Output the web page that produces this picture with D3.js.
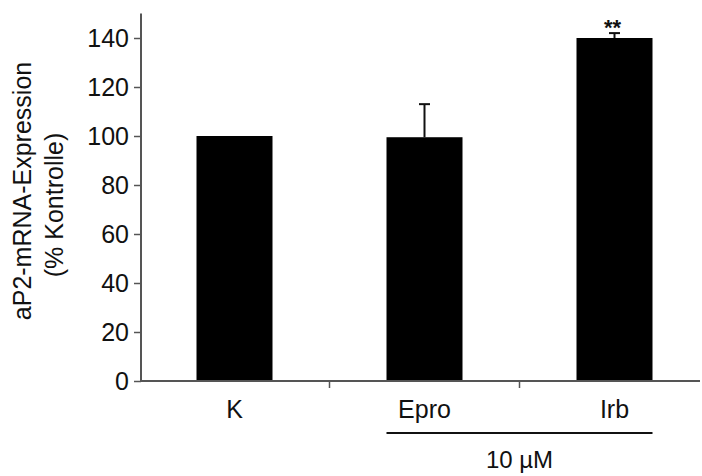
<!DOCTYPE html>
<html>
<head>
<meta charset="utf-8">
<script src="https://cdn.jsdelivr.net/npm/d3@7"></script>
<style>
  html, body { margin: 0; padding: 0; background: #fff; }
  svg { display: block; }
  text { font-family: "Liberation Sans", Arial, Helvetica, sans-serif; fill: #111; }
</style>
</head>
<body>
<svg id="chart" width="702" height="476"></svg>
<script>
// aP2 mRNA expression relative to control
const categories = ["K", "Epro", "Irb"];
const values = [100, 99.5, 140];
const errors = [0, 13.5, 2];
const significance = ["", "", "**"];
const yTicks = [0, 20, 40, 60, 80, 100, 120, 140];
const yTitleLines = ["aP2-mRNA-Expression", "(% Kontrolle)"];
const groupLabel = "10 µM";
const groupMembers = ["Epro", "Irb"];

const svg = d3.select("#chart");
const axisColor = "#555";

const x = d3.scaleBand()
  .domain(categories)
  .range([139.5, 709.5])
  .padding(0);

const y = d3.scaleLinear()
  .domain([0, 150])
  .range([381, 13.5]);

const barW = x.bandwidth() * 0.4;
const xLeft = 141;

// Bars
svg.append("g")
  .selectAll("rect")
  .data(categories)
  .join("rect")
  .attr("x", (d) => x(d) + (x.bandwidth() - barW) / 2)
  .attr("y", (d, i) => y(values[i]))
  .attr("width", barW)
  .attr("height", (d, i) => y(0) - y(values[i]))
  .attr("fill", "#000");

// Error bars (upper only)
const err = svg.append("g")
  .attr("stroke", "#111")
  .attr("stroke-width", 2);
categories.forEach((c, i) => {
  if (!errors[i]) return;
  const cx = x(c) + x.bandwidth() / 2;
  err.append("line")
    .attr("x1", cx).attr("x2", cx)
    .attr("y1", y(values[i])).attr("y2", y(values[i] + errors[i]));
  err.append("line")
    .attr("x1", cx - 5.5).attr("x2", cx + 5.5)
    .attr("y1", y(values[i] + errors[i])).attr("y2", y(values[i] + errors[i]));
});

// Significance markers
svg.append("g")
  .selectAll("text")
  .data(categories)
  .join("text")
  .attr("x", (d) => x(d) + x.bandwidth() / 2 - 2)
  .attr("y", (d, i) => y(values[i] + errors[i]) + 2)
  .attr("text-anchor", "middle")
  .attr("font-size", 22)
  .attr("font-weight", "bold")
  .text((d, i) => significance[i]);

// Y axis
const yAxis = d3.axisLeft(y)
  .tickValues(yTicks)
  .tickSize(7)
  .tickPadding(5)
  .tickSizeOuter(0);
const gy = svg.append("g")
  .attr("transform", `translate(${xLeft},0)`)
  .call(yAxis);
gy.select(".domain").attr("stroke", axisColor).attr("stroke-width", 2)
  .attr("d", `M0,${y(150)}V${y(0) + 1}`);
gy.selectAll(".tick line").attr("stroke", axisColor).attr("stroke-width", 1.5);
gy.selectAll(".tick text")
  .attr("font-size", 25)
  .attr("font-family", "'Liberation Sans', Arial, sans-serif")
  .attr("fill", "#111")
  .attr("dy", "0.35em");

// X axis baseline with ticks between categories
const gx = svg.append("g");
gx.append("line")
  .attr("x1", xLeft).attr("x2", 700)
  .attr("y1", y(0)).attr("y2", y(0))
  .attr("stroke", axisColor).attr("stroke-width", 2);
gx.selectAll("line.sep")
  .data(categories.slice(1))
  .join("line")
  .attr("class", "sep")
  .attr("x1", (d) => x(d)).attr("x2", (d) => x(d))
  .attr("y1", y(0)).attr("y2", y(0) + 7)
  .attr("stroke", axisColor).attr("stroke-width", 1.5);
gx.selectAll("text")
  .data(categories)
  .join("text")
  .attr("x", (d) => x(d) + x.bandwidth() / 2)
  .attr("y", 418)
  .attr("text-anchor", "middle")
  .attr("font-size", 25)
  .text((d) => d);

// Concentration bracket under the treated groups
const gStart = x(groupMembers[0]) + (x.bandwidth() - barW) / 2;
const gEnd = x(groupMembers[groupMembers.length - 1]) + (x.bandwidth() + barW) / 2;
svg.append("line")
  .attr("x1", gStart).attr("x2", gEnd)
  .attr("y1", 433).attr("y2", 433)
  .attr("stroke", "#111").attr("stroke-width", 2);
svg.append("text")
  .attr("x", (gStart + gEnd) / 2)
  .attr("y", 468)
  .attr("text-anchor", "middle")
  .attr("font-size", 24)
  .text(groupLabel);

// Y axis title
const titleCenters = [191, 205];
const titleBaselines = [31, 63];
yTitleLines.forEach((t, i) => {
  svg.append("text")
    .attr("transform", `translate(${titleBaselines[i]},${titleCenters[i]}) rotate(-90)`)
    .attr("text-anchor", "middle")
    .attr("font-size", 25)
    .text(t);
});
</script>
</body>
</html>
